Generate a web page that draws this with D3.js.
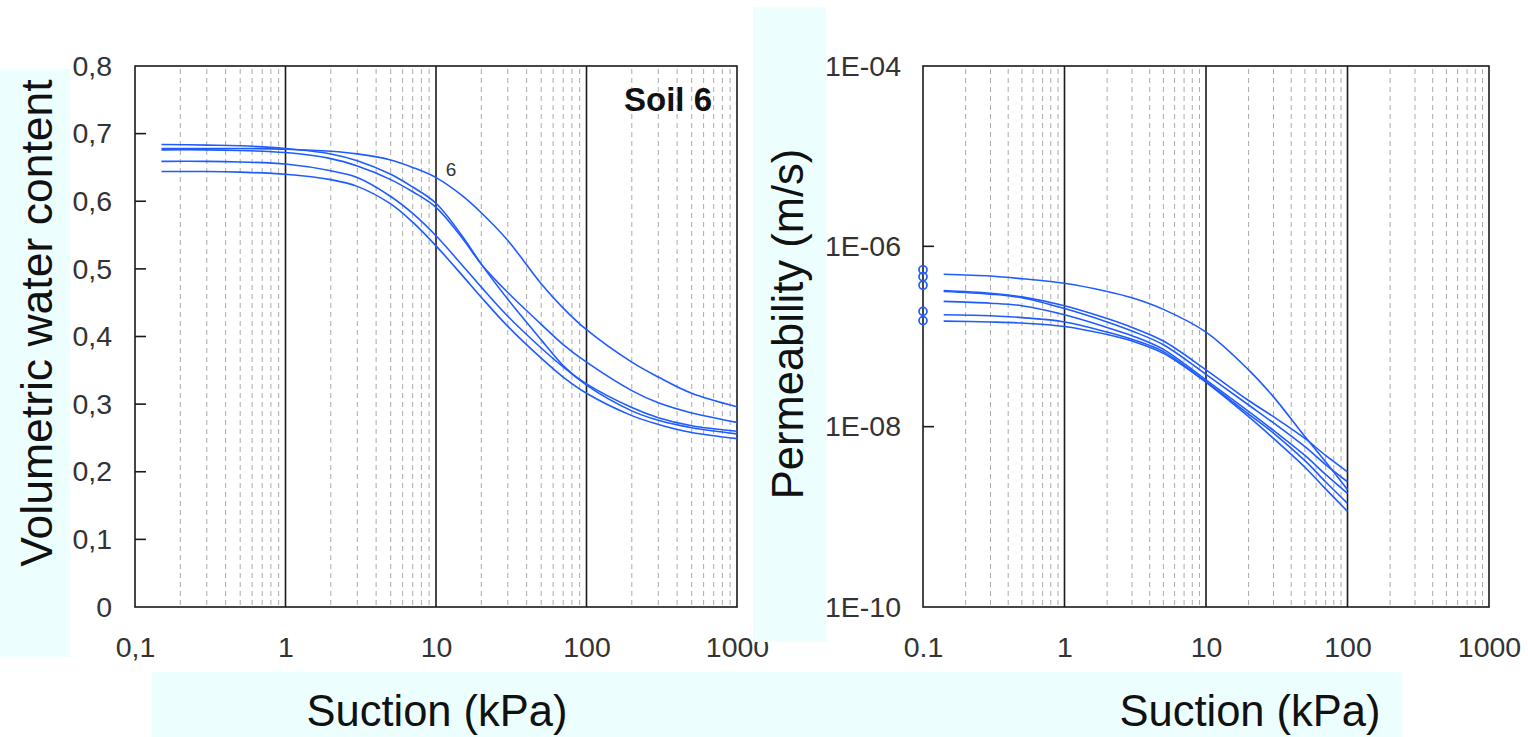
<!DOCTYPE html>
<html><head><meta charset="utf-8">
<script src="https://cdn.jsdelivr.net/npm/d3@7"></script>
<style>
html,body{margin:0;padding:0;background:#fff;}
svg{display:block;font-family:"Liberation Sans",Arial,sans-serif;}
</style></head>
<body>
<svg id="chart" width="1528" height="737"></svg>
<script>
// ---- data ----
const suctionW = [0.15, 0.3, 0.5, 1, 2, 3, 5, 7, 10, 15, 20, 30, 50, 70, 100, 200, 300, 500, 1000];
const thetaA = [0.678, 0.678, 0.678, 0.677, 0.674, 0.670, 0.661, 0.650, 0.635, 0.608, 0.583, 0.542, 0.478, 0.442, 0.410, 0.362, 0.340, 0.316, 0.296];
const thetaB = [0.684, 0.683, 0.682, 0.678, 0.670, 0.660, 0.640, 0.621, 0.597, 0.548, 0.507, 0.455, 0.395, 0.357, 0.328, 0.290, 0.276, 0.265, 0.256];
const thetaC = [0.676, 0.676, 0.675, 0.672, 0.663, 0.652, 0.632, 0.614, 0.591, 0.545, 0.507, 0.465, 0.418, 0.388, 0.362, 0.320, 0.302, 0.287, 0.273];
const thetaD = [0.659, 0.659, 0.658, 0.655, 0.645, 0.635, 0.607, 0.582, 0.549, 0.505, 0.473, 0.430, 0.383, 0.355, 0.330, 0.295, 0.280, 0.268, 0.260];
const thetaE = [0.644, 0.644, 0.643, 0.640, 0.632, 0.622, 0.596, 0.569, 0.534, 0.490, 0.458, 0.415, 0.368, 0.340, 0.316, 0.283, 0.270, 0.258, 0.249];

const suctionK = [0.14, 0.3, 0.5, 1, 2, 3, 5, 10, 20, 30, 50, 70, 100];
const permP1 = [4.9e-7, 4.68e-7, 4.37e-7, 3.89e-7, 3.16e-7, 2.69e-7, 2.0e-7, 1.12e-7, 4.27e-8, 2.14e-8, 7.76e-9, 4.07e-9, 2.0e-9];
const permQ1 = [3.24e-7, 3.02e-7, 2.75e-7, 2.19e-7, 1.58e-7, 1.26e-7, 8.9e-8, 4.27e-8, 1.95e-8, 1.29e-8, 7.4e-9, 4.8e-9, 3.16e-9];
const permQ2 = [3.16e-7, 2.95e-7, 2.69e-7, 2.04e-7, 1.45e-7, 1.15e-7, 8.1e-8, 3.8e-8, 1.74e-8, 1.1e-8, 6.0e-9, 3.8e-9, 2.45e-9];
const permQ3 = [2.45e-7, 2.34e-7, 2.19e-7, 1.74e-7, 1.26e-7, 1.02e-7, 7.2e-8, 3.3e-8, 1.48e-8, 9.1e-9, 4.8e-9, 2.95e-9, 1.82e-9];
const permQ4 = [1.74e-7, 1.70e-7, 1.62e-7, 1.45e-7, 1.12e-7, 9.3e-8, 6.8e-8, 3.16e-8, 1.38e-8, 8.5e-9, 4.2e-9, 2.45e-9, 1.41e-9];
const permQ5 = [1.48e-7, 1.45e-7, 1.41e-7, 1.29e-7, 1.05e-7, 8.9e-8, 6.5e-8, 3.1e-8, 1.29e-8, 7.4e-9, 3.55e-9, 2.04e-9, 1.15e-9];

const satSuction = [0.1, 0.1, 0.1, 0.1, 0.1];
const satPerm = [5.5e-7, 4.6e-7, 3.7e-7, 1.9e-7, 1.5e-7];

const xTicksW = [0.1, 1, 10, 100, 1000];
const yTicksW = [0, 0.1, 0.2, 0.3, 0.4, 0.5, 0.6, 0.7, 0.8];
const yMarksW = [0.1, 0.2, 0.3, 0.4, 0.5, 0.6, 0.7];
const xTicksK = [0.1, 1, 10, 100, 1000];
const yTicksK = [1e-4, 1e-6, 1e-8, 1e-10];
const yMarksK = [1e-6, 1e-8];

// ---- styles ----
const BLUE = "#1f5cff";
const CYAN = "#edfefe";
const TXT = "#333333";

const svg = d3.select("#chart");
svg.append("rect").attr("width",1528).attr("height",737).attr("fill","#fff");
svg.append("rect").attr("x",0).attr("y",69).attr("width",70).attr("height",588).attr("fill",CYAN);
svg.append("rect").attr("x",152).attr("y",672).attr("width",1250).attr("height",65).attr("fill",CYAN);

function minorValues(){
  const v=[];
  for(let e=-1;e<3;e++){for(let m=2;m<=9;m++){v.push(m*Math.pow(10,e));}}
  return v;
}

function panel(x, y, opts){
  const [x0,x1] = x.range(); const [y0,y1] = y.range();
  const g = svg.append("g");
  g.selectAll("line.minor").data(minorValues()).enter().append("line")
    .attr("x1",d=>x(d)).attr("x2",d=>x(d)).attr("y1",y1+3).attr("y2",y0-2)
    .attr("stroke","#ababab").attr("stroke-width",1).attr("stroke-dasharray","5,4");
  g.selectAll("line.major").data([1,10,100]).enter().append("line")
    .attr("x1",d=>x(d)).attr("x2",d=>x(d)).attr("y1",y1).attr("y2",y0)
    .attr("stroke","#1a1a1a").attr("stroke-width",1.6);
  g.append("rect").attr("x",x0).attr("y",y1).attr("width",x1-x0).attr("height",y0-y1)
    .attr("fill","none").attr("stroke","#1a1a1a").attr("stroke-width",1.6);
  g.selectAll("line.tk").data(opts.yMarks).enter().append("line")
    .attr("x1",x0).attr("x2",x0+11).attr("y1",d=>y(d)).attr("y2",d=>y(d))
    .attr("stroke","#1a1a1a").attr("stroke-width",1.6);
  return g;
}

// ---------- Left panel ----------
const xW = d3.scaleLog().domain([0.1,1000]).range([135,737]);
const yW = d3.scaleLinear().domain([0,0.8]).range([607,66]);
const gW = panel(xW, yW, {yMarks:yMarksW});
const lineW = d3.line().x(d=>xW(d[0])).y(d=>yW(d[1])).curve(d3.curveCatmullRom.alpha(0.5));
[thetaA,thetaB,thetaC,thetaD,thetaE].forEach(s=>{
  gW.append("path").attr("d", lineW(suctionW.map((v,i)=>[v,s[i]])))
    .attr("fill","none").attr("stroke",BLUE).attr("stroke-width",1.6);
});
const commaFmt = d => d===0 ? "0" : String(d).replace(".",",");
const axW_y = svg.append("g").attr("transform","translate(135,0)")
  .call(d3.axisLeft(yW).tickValues(yTicksW).tickSize(0).tickPadding(23).tickFormat(commaFmt));
const axW_x = svg.append("g").attr("transform","translate(0,607)")
  .call(d3.axisBottom(xW).tickValues(xTicksW).tickSize(0).tickPadding(30).tickFormat(commaFmt));
[axW_y, axW_x].forEach(a=>{
  a.select(".domain").remove();
  a.selectAll("text").attr("font-size",28.5).attr("fill",TXT).attr("font-family","Liberation Sans, Arial, sans-serif");
});
svg.append("text").attr("x",712).attr("y",111).attr("text-anchor","end")
  .attr("font-size",33).attr("font-weight","bold").attr("fill","#111").text("Soil 6");
svg.append("text").attr("x",xW(11.6)).attr("y",176).attr("font-size",19).attr("fill",TXT).text("6");
svg.append("text").attr("transform","translate(52,323) rotate(-90)").attr("text-anchor","middle")
  .attr("font-size",44.5).attr("fill","#111").text("Volumetric water content");
svg.append("text").attr("x",437).attr("y",726).attr("text-anchor","middle")
  .attr("font-size",43.5).attr("fill","#111").text("Suction (kPa)");

// right label box (drawn over left "1000")
svg.append("rect").attr("x",753).attr("y",7).attr("width",73).attr("height",635).attr("fill",CYAN);

// ---------- Right panel ----------
const xK = d3.scaleLog().domain([0.1,1000]).range([923,1489]);
const yK = d3.scaleLog().domain([1e-10,1e-4]).range([607,66]);
const gK = panel(xK, yK, {yMarks:yMarksK});
const lineK = d3.line().x(d=>xK(d[0])).y(d=>yK(d[1])).curve(d3.curveCatmullRom.alpha(0.5));
[permP1,permQ1,permQ2,permQ3,permQ4,permQ5].forEach(s=>{
  gK.append("path").attr("d", lineK(suctionK.map((v,i)=>[v,s[i]])))
    .attr("fill","none").attr("stroke",BLUE).attr("stroke-width",1.6);
});
gK.selectAll("circle.sat").data(satPerm).enter().append("circle")
  .attr("cx",(d,i)=>xK(satSuction[i])).attr("cy",d=>yK(d)).attr("r",4)
  .attr("fill","none").attr("stroke",BLUE).attr("stroke-width",1.7);
const expFmt = d => "1E-" + String(Math.round(-Math.log10(d))).padStart(2,"0");
const axK_y = svg.append("g").attr("transform","translate(923,0)")
  .call(d3.axisLeft(yK).tickValues(yTicksK).tickSize(0).tickPadding(22).tickFormat(expFmt));
const axK_x = svg.append("g").attr("transform","translate(0,607)")
  .call(d3.axisBottom(xK).tickValues(xTicksK).tickSize(0).tickPadding(30).tickFormat(d=>String(d)));
[axK_y, axK_x].forEach(a=>{
  a.select(".domain").remove();
  a.selectAll("text").attr("font-size",28.5).attr("fill",TXT).attr("font-family","Liberation Sans, Arial, sans-serif");
});
svg.append("text").attr("transform","translate(803,324) rotate(-90)").attr("text-anchor","middle")
  .attr("font-size",43.5).attr("fill","#111").text("Permeability (m/s)");
svg.append("text").attr("x",1250).attr("y",726).attr("text-anchor","middle")
  .attr("font-size",43.5).attr("fill","#111").text("Suction (kPa)");
</script>
</body></html>
